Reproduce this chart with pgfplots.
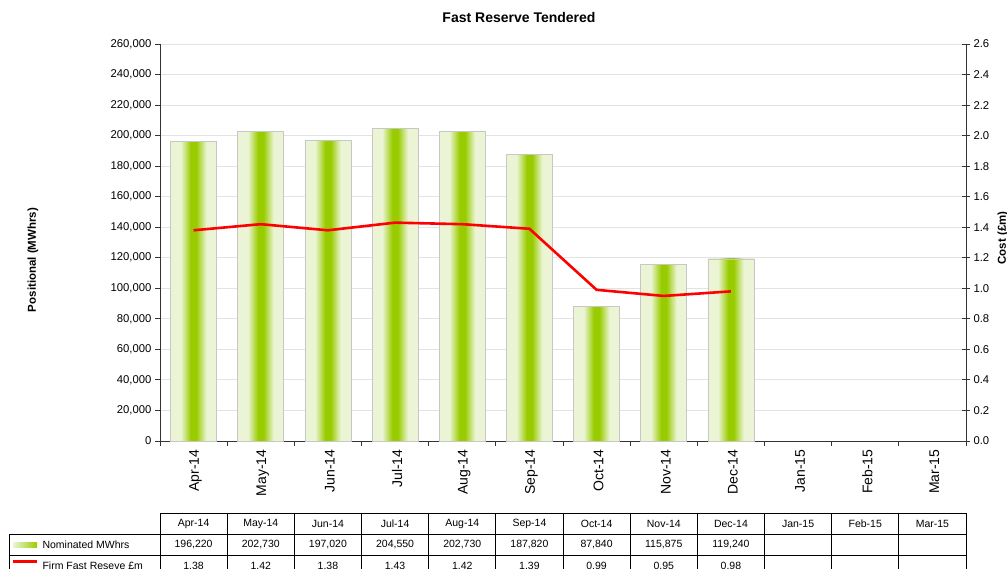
\documentclass[border=0pt]{standalone}
\usepackage{pgfplots}
\pgfplotsset{compat=1.18}
\usepackage{fontspec}
\setmainfont{Liberation Sans}
\definecolor{barG}{HTML}{99CC00}
\definecolor{barL}{HTML}{EBF5D5}
\definecolor{gridc}{HTML}{E3E3E3}
\definecolor{axc}{HTML}{333333}
\pgfdeclarehorizontalshading{barshade}{100bp}{color(0bp)=(barL); color(25bp)=(barL); color(36bp)=(barL); color(47bp)=(barG); color(53bp)=(barG); color(64bp)=(barL); color(75bp)=(barL); color(100bp)=(barL)}
\pgfplotsset{barsty/.style={ybar, bar width=46pt, bar shift=0pt, draw=black!22, line width=0.8pt, shading=barshade}}
\begin{document}
\begin{tikzpicture}[x=1pt,y=1pt]
\begin{axis}[
  at={(160pt,127pt)}, anchor=south west,
  width=806pt, height=397pt, scale only axis,
  xmin=-0.5, xmax=11.5, ymin=0, ymax=260000,
  axis x line*=bottom, axis y line*=left,
  axis line style={-, axc, line width=0.9pt},
  xtick={0,...,11},
  xticklabels={Apr-14,May-14,Jun-14,Jul-14,Aug-14,Sep-14,Oct-14,Nov-14,Dec-14,Jan-15,Feb-15,Mar-15},
  minor xtick={-0.5,0.5,1.5,2.5,3.5,4.5,5.5,6.5,7.5,8.5,9.5,10.5,11.5},
  major x tick style={draw=none},
  minor x tick style={axc, line width=0.9pt},
  minor tick length=5pt, major tick length=5pt,
  tick align=outside,
  ytick={0,20000,...,260000},
  y tick style={axc, line width=0.9pt},
  ymajorgrids, grid style={gridc, line width=0.9pt},
  scaled y ticks=false,
  yticklabel style={font=\fontsize{11.3}{13}\selectfont, /pgf/number format/.cd, fixed, 1000 sep={,}, assume math mode=true},
  xticklabel style={rotate=90, anchor=east, font=\fontsize{14}{16}\selectfont, yshift=-2pt},
  clip=false,
]
\addplot[barsty] coordinates {(0,196220)};
\addplot[barsty] coordinates {(1,202730)};
\addplot[barsty] coordinates {(2,197020)};
\addplot[barsty] coordinates {(3,204550)};
\addplot[barsty] coordinates {(4,202730)};
\addplot[barsty] coordinates {(5,187820)};
\addplot[barsty] coordinates {(6,87840)};
\addplot[barsty] coordinates {(7,115875)};
\addplot[barsty] coordinates {(8,119240)};
\end{axis}
\begin{axis}[
  at={(160pt,127pt)}, anchor=south west,
  width=806pt, height=397pt, scale only axis,
  xmin=-0.5, xmax=11.5, ymin=0, ymax=2.6,
  axis y line*=right, axis x line=none,
  axis line style={-, axc, line width=0.9pt},
  ytick={0,0.2,0.4,0.6,0.8,1.0,1.2,1.4,1.6,1.8,2.0,2.2,2.4,2.6},
  tick align=center, major tick length=8pt,
  y tick style={axc, line width=0.9pt},
  yticklabel style={font=\fontsize{11.3}{13}\selectfont, /pgf/number format/.cd, fixed, fixed zerofill, precision=1, assume math mode=true},
]
\addplot[color=red, line width=2.6pt, mark=none]
  coordinates {(0,1.38) (1,1.42) (2,1.38) (3,1.43) (4,1.42) (5,1.39) (6,0.99) (7,0.95) (8,0.98)};
\end{axis}
% titles
\node[font=\bfseries\fontsize{14}{16}\selectfont] at (519,550) {Fast Reserve Tendered};
\node[rotate=90, font=\bfseries\fontsize{11.5}{13}\selectfont] at (33,308) {Positional (MWhrs)};
\node[rotate=90, font=\bfseries\fontsize{11.5}{13}\selectfont] at (1003,330) {Cost (£m)};
% data table
\begin{scope}[line width=0.8pt, black]
\draw (160,55) -- (966,55);
\draw (9,34) -- (966,34);
\draw (9,13) -- (966,13);
\draw (9,34) -- (9,-12);
\foreach \i in {0,...,12} { \draw ({160+67.1667*\i},55) -- ({160+67.1667*\i},-12); }
\end{scope}
\begin{scope}[font=\fontsize{10.5}{12}\selectfont]
\foreach \m [count=\i from 0] in {Apr-14,May-14,Jun-14,Jul-14,Aug-14,Sep-14,Oct-14,Nov-14,Dec-14,Jan-15,Feb-15,Mar-15}
  { \node at ({193.6+67.1667*\i},44.5) {\m}; }
\foreach \v [count=\i from 0] in {196{,}220,202{,}730,197{,}020,204{,}550,202{,}730,187{,}820,87{,}840,115{,}875,119{,}240}
  { \node at ({193.6+67.1667*\i},23.5) {\v}; }
\foreach \v [count=\i from 0] in {1.38,1.42,1.38,1.43,1.42,1.39,0.99,0.95,0.98}
  { \node at ({193.6+67.1667*\i},2.5) {\v}; }
\shade[left color=barL, right color=barG, draw=none] (13,21) rectangle (37,26);
\node[anchor=west] at (39,23.5) {Nominated MWhrs};
\draw[red, line width=2.6pt] (13,6.5) -- (37,6.5);
\node[anchor=west] at (39,2.5) {Firm Fast Reseve £m};
\end{scope}
\pgfresetboundingbox
\path[use as bounding box] (0,0) rectangle (1007,568);
\end{tikzpicture}
\end{document}
